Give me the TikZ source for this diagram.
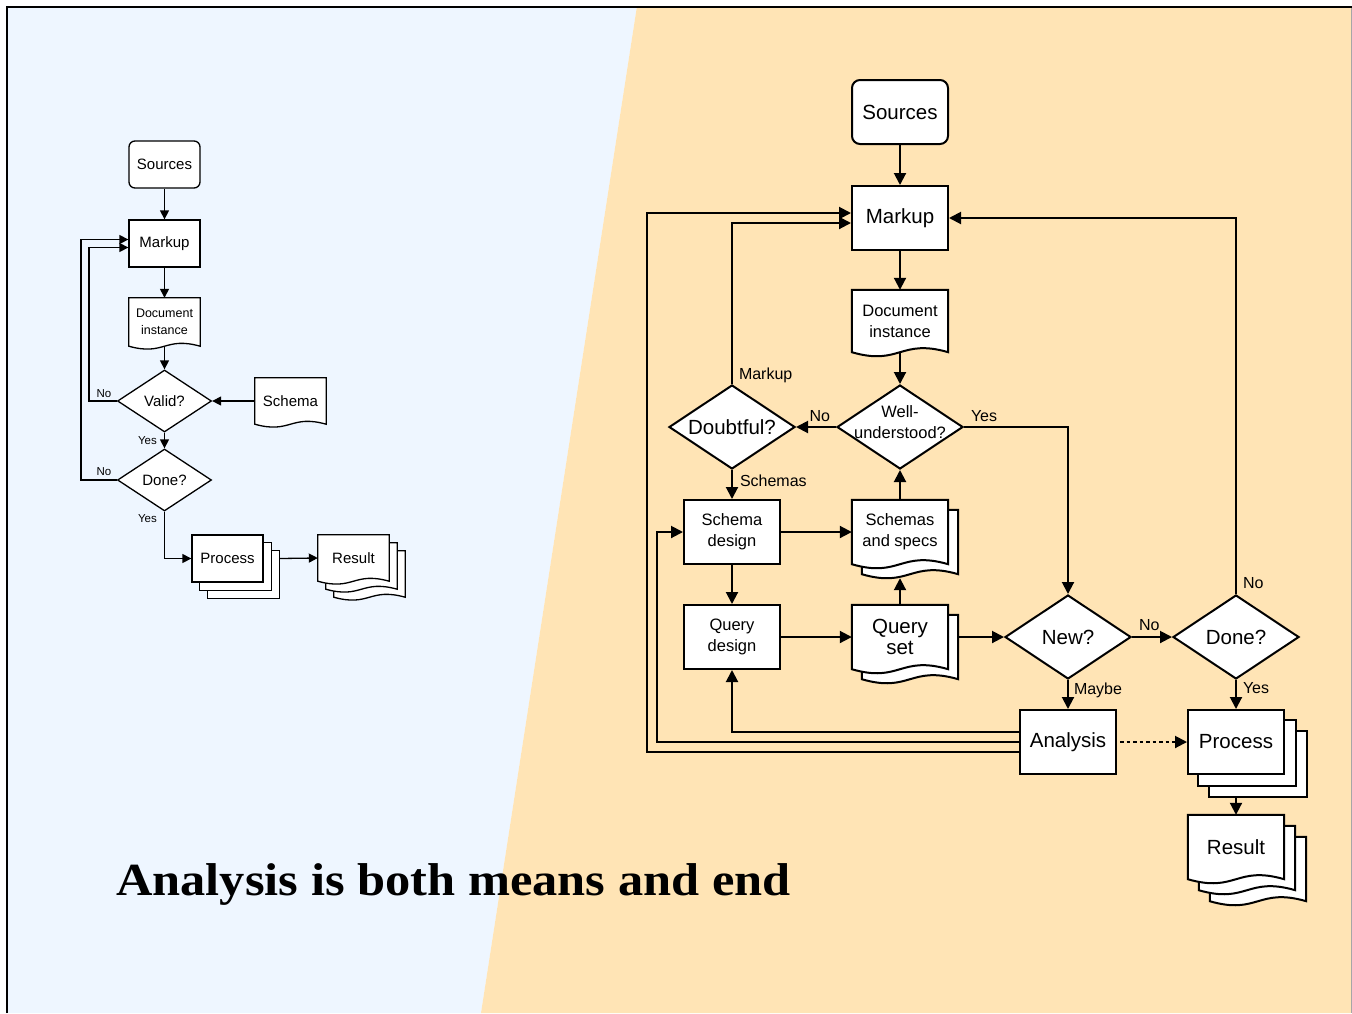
\documentclass[tikz,border=0pt]{standalone}
\usepackage{graphicx}
\usepackage{fontspec}
\setmainfont{Liberation Sans}
\newfontfamily\titlefont{Liberation Serif}
\usetikzlibrary{arrows.meta,shapes.geometric}
\definecolor{bgblue}{RGB}{238,246,255}
\definecolor{bgtan}{RGB}{255,228,181}
\pgfdeclarelayer{bgl}
\pgfdeclarelayer{shp}
\pgfsetlayers{bgl,shp,main}
% document outline around a named node: node, amplitude, offset, style
\newcommand\docout[4]{%
  \path[#4] ([shift={(#3,#3)}]#1.north west) -- ([shift={(#3,#3)}]#1.north east)
    -- ([shift={(#3,#3)}]#1.south east)
    .. controls ([shift={(#3,#3-2*#2)}]#1.south) and ([shift={(#3,#3+2*#2)}]#1.south) ..
    ([shift={(#3,#3)}]#1.south west) -- cycle;}
\newcommand\boxout[3]{%
  \path[#3] ([shift={(#2,#2)}]#1.north west) rectangle ([shift={(#2,#2)}]#1.south east);}
\tikzset{
  fR/.style={font=\fontsize{20.5}{21}\selectfont},
  fRs/.style={font=\fontsize{16.5}{21}\selectfont},
  fL/.style={font=\fontsize{15}{18}\selectfont},
  fLs/.style={font=\fontsize{12.5}{16.5}\selectfont},
  outR/.style={draw=black, fill=white, line width=2pt},
  outL/.style={draw=black, fill=white, line width=1.3pt},
  boxR/.style={outR, minimum width=96pt, minimum height=64pt, inner sep=0pt, align=center},
  boxL/.style={outL, minimum width=71pt, minimum height=47pt, inner sep=0pt, align=center},
  docR/.style={minimum width=96pt, minimum height=#1, inner sep=0pt, align=center},
  docL/.style={minimum width=71pt, minimum height=#1, inner sep=0pt, align=center},
  dmR/.style={outR, diamond, minimum width=126pt, minimum height=84pt, inner sep=0pt},
  dmL/.style={outL, diamond, minimum width=94pt, minimum height=62pt, inner sep=0pt},
  labR/.style={font=\fontsize{16}{19}\selectfont, inner sep=0pt},
  labL/.style={font=\fontsize{11.5}{13}\selectfont, inner sep=0pt},
  arR/.style={line width=2pt, -{Triangle[length=12pt,width=12pt]}},
  arL/.style={line width=1.3pt, -{Triangle[length=9pt,width=9pt]}},
}
\begin{document}
\begin{tikzpicture}[x=1pt,y=-1pt]
\useasboundingbox (0,0) rectangle (1352,1013);
\begin{pgfonlayer}{bgl}
  \fill[bgblue] (6,6) -- (637,6) -- (481,1013) -- (6,1013) -- cycle;
  \fill[bgtan] (637,6) -- (1351,6) -- (1351,1013) -- (481,1013) -- cycle;
  \draw[gray!70, line width=1pt] (1351.5,6) -- (1351.5,1013);
  \draw[line width=2pt] (7,1013) -- (7,7) -- (1352,7);
\end{pgfonlayer}

% ---------------- left diagram ----------------
\node[boxL, fL, rounded corners=6pt] (srcL) at (164.5,164.5) {Sources};
\node[boxL, fL] (markL) at (164.5,243.5) {Markup};
\node[docL=48pt, fLs] (docL) at (164.5,322) {Document\\instance};
\node[dmL, label={[fL]center:Valid?}] (validL) at (164.5,401) {};
\node[docL=46pt, fL] (schemaL) at (290.5,401) {Schema};
\node[dmL, label={[fL]center:Done?}] (doneL) at (164.5,480) {};
\node[boxL, fL] (procL) at (227.5,558.5) {Process};
\node[docL=46pt, fL] (resL) at (353.5,558) {Result};

\begin{pgfonlayer}{shp}
  \docout{docL}{5}{0}{outL}
  \docout{schemaL}{5}{0}{outL}
  \boxout{procL}{16}{outL}
  \boxout{procL}{8}{outL}
  \docout{resL}{5}{16}{outL}
  \docout{resL}{5}{8}{outL}
  \docout{resL}{5}{0}{outL}
\end{pgfonlayer}

\draw[arL] (srcL) -- (markL);
\draw[arL] (markL) -- (docL);
\draw[arL] (docL.south) -- (validL.north);
\draw[arL] (schemaL) -- (validL);
\draw[arL] (validL.south) node[labL, anchor=base east, xshift=-7pt, yshift=-12pt] {Yes} -- (doneL.north);
\draw[arL] (validL.west) node[labL, anchor=base east, xshift=-5pt, yshift=4pt] {No} -- ++(-28,0) |- ([yshift=-4pt]markL.west);
\draw[arL] (doneL.west) node[labL, anchor=base east, xshift=-5pt, yshift=5pt] {No} -- ++(-36,0) |- ([yshift=4pt]markL.west);
\draw[arL] (doneL.south) node[labL, anchor=base east, xshift=-7pt, yshift=-11pt] {Yes} |- (procL.west);
\draw[arL] ([xshift=16pt]procL.east) -- (resL.west);

% ---------------- right diagram ----------------
\node[boxR, fR, rounded corners=8pt] (srcR) at (900,112) {Sources};
\node[boxR, fR] (markR) at (900,218) {Markup};
\node[docR=62pt, fRs] (docR) at (900,321) {Document\\instance};
\node[dmR, label={[fRs, align=center, yshift=5pt]center:{Well-\\understood?}}] (wellR) at (900,427) {};
\node[dmR, label={[fR]center:Doubtful?}] (doubtR) at (732,427) {};
\node[boxR, fRs] (sdesR) at (732,532) {Schema\\design};
\node[docR=64pt, fRs] (sspecR) at (900,532) {Schemas\\and specs};
\node[boxR, fRs] (qdesR) at (732,637) {Query\\design};
\node[docR=64pt, fR] (qsetR) at (900,637) {Query\\set};
\node[dmR, label={[fR]center:New?}] (newR) at (1068,637) {};
\node[dmR, label={[fR]center:Done?}] (doneR) at (1236,637) {};
\node[boxR, fR] (anaR) at (1068,742) {Analysis};
\node[boxR, fR] (procR) at (1236,742) {Process};
\node[docR=64pt, fR] (resR) at (1236,847) {Result};

\begin{pgfonlayer}{shp}
  \docout{docR}{7}{0}{outR}
  \docout{sspecR}{7}{10}{outR}
  \docout{sspecR}{7}{0}{outR}
  \docout{qsetR}{7}{10}{outR}
  \docout{qsetR}{7}{0}{outR}
  \boxout{procR}{22}{outR}
  \boxout{procR}{11}{outR}
  \docout{resR}{7}{22}{outR}
  \docout{resR}{7}{11}{outR}
  \docout{resR}{7}{0}{outR}
\end{pgfonlayer}

\draw[arR] (srcR) -- (markR);
\draw[arR] (markR) -- (docR);
\draw[arR] (docR.south) -- (wellR.north);
\draw[arR] (wellR.west) node[labR, anchor=base east, xshift=-5pt, yshift=6pt] {No} -- (doubtR.east);
\draw[arR] (wellR.east) node[labR, anchor=base west, xshift=6pt, yshift=6pt] {Yes} -| (newR.north);
\draw[arR] (doubtR.north) node[labR, anchor=base west, xshift=6pt, yshift=5pt] {Markup} |- ([yshift=-5pt]markR.west);
\draw[arR] (doubtR.south) node[labR, anchor=base west, xshift=7pt, yshift=-16pt] {Schemas} -- (sdesR.north);
\draw[arR] (sdesR) -- (sspecR);
\draw[arR] (sspecR.north) -- (wellR.south);
\draw[arR] (sdesR) -- (qdesR);
\draw[arR] (qdesR) -- (qsetR);
\draw[arR] (qsetR.north) -- ([yshift=-14pt]sspecR.south);
\draw[arR] ([xshift=10pt]qsetR.east) -- (newR.west);
\draw[arR] (newR.east) node[labR, anchor=base west, xshift=6pt, yshift=7pt] {No} -- (doneR.west);
\draw[arR] (newR.south) node[labR, anchor=base west, xshift=5pt, yshift=-14pt] {Maybe} -- (anaR.north);
\draw[arR] (doneR.north) node[labR, anchor=base west, xshift=6pt, yshift=6pt] {No} |- (markR.east);
\draw[arR] (doneR.south) node[labR, anchor=base west, xshift=6pt, yshift=-13pt] {Yes} -- (procR.north);
\draw[arR, dash pattern=on 3.5pt off 3pt] ([xshift=3pt]anaR.east) -- (procR.west);
\draw[arR] ([yshift=-22pt]procR.south) -- (resR.north);
\draw[arR] ([yshift=10pt]anaR.west) -| (qdesR.south);
\draw[arR] (anaR.west) -- ++(-362,0) |- (sdesR.west);
\draw[arR] ([yshift=-10pt]anaR.west) -- ++(-372,0) |- ([yshift=5pt]markR.west);

% ---------------- title ----------------
\node[anchor=base west, inner sep=0pt, font=\titlefont\bfseries\fontsize{46}{50}\selectfont] (title) at (116,895) {\scalebox{1.097}[1]{Analysis is both means and end}};
\end{tikzpicture}
\end{document}
